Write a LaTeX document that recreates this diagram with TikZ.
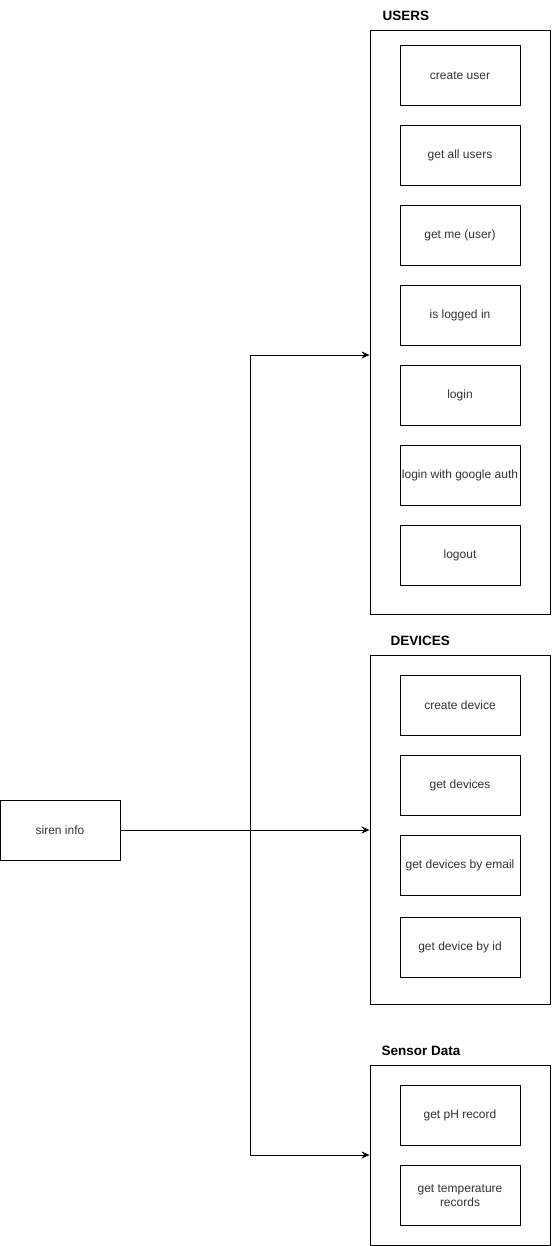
\documentclass[tikz,border=0pt]{standalone}
\usepackage{fontspec}
\setmainfont{Liberation Sans}
\usetikzlibrary{arrows.meta}
\definecolor{txt}{HTML}{333333}
\begin{document}
\begin{tikzpicture}[x=1pt,y=-1pt,
  box/.style={draw=black,line width=0.9pt,minimum width=120pt,minimum height=60pt,inner sep=0pt,align=center,font=\fontsize{12}{14}\selectfont,text=txt},
  container/.style={draw=black,line width=0.9pt,inner sep=0pt},
  title/.style={anchor=west,font=\fontsize{13.5}{15}\selectfont\bfseries,text=black},
  conn/.style={draw=black,line width=0.9pt,-{Stealth[length=8pt,width=7pt,inset=2.5pt]}}]
\useasboundingbox (0,0) rectangle (551,1246);
% containers
\node[container,minimum width=180pt,minimum height=584pt] (users) at (460,322) {};
\node[container,minimum width=180pt,minimum height=349pt] (devices) at (460,829.5) {};
\node[container,minimum width=180pt,minimum height=180pt] (sensor) at (460,1155) {};
\node[title] (tusers) at (379,16) {USERS};
\node[title] (tdev) at (387,641) {DEVICES};
\node[title] (tsens) at (378,1051) {Sensor Data};
% users
\node[box] (u1) at (460,75.5) {create user};
\node[box] (u2) at (460,155.5) {get all users};
\node[box] (u3) at (460,235.5) {get me (user)};
\node[box] (u4) at (460,315.5) {is logged in};
\node[box] (u5) at (460,395.5) {login};
\node[box] (u6) at (460,475.5) {login with google auth};
\node[box] (u7) at (460,555.5) {logout};
% devices
\node[box] (d1) at (460,705.5) {create device};
\node[box] (d2) at (460,785.5) {get devices};
\node[box] (d3) at (460,865.5) {get devices by email};
\node[box] (d4) at (460,947.5) {get device by id};
% sensor
\node[box] (s1) at (460,1115.5) {get pH record};
\node[box,align=center] (s2) at (460,1195.5) {get temperature\\records};
% source
\node[box] (siren) at (60,830) {siren info};
\coordinate (jU) at (250,355);
\coordinate (jS) at (250,1155);
\draw[conn] (siren.east) -- (siren.east -| jU) -- (jU) -- (users.west |- jU);
\draw[conn] (siren.east) -- (devices.west |- siren.east);
\draw[conn] (siren.east) -- (siren.east -| jS) -- (jS) -- (sensor.west |- jS);
\end{tikzpicture}
\end{document}
